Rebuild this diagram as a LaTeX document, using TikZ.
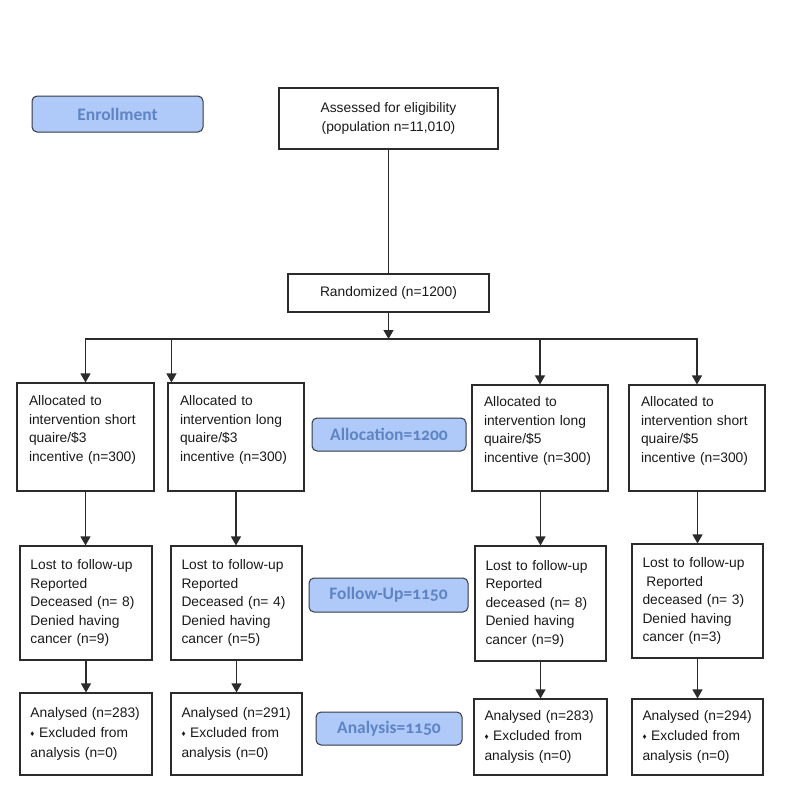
\documentclass[tikz,border=0pt]{standalone}
\usepackage{fontspec}
\setmainfont{Liberation Sans}
\newfontfamily\lblfont[Numbers=OldStyle]{Carlito}
\usetikzlibrary{arrows.meta}
\definecolor{lblfill}{HTML}{AFC9F9}
\definecolor{lbltext}{HTML}{5F84C4}
\definecolor{lbldraw}{HTML}{333840}
\definecolor{ln}{HTML}{2B2B2B}
\newcommand{\dmd}{{\fontsize{8}{8}\selectfont\raisebox{1pt}{♦}}}
\begin{document}
\begin{tikzpicture}[x=1pt,y=-1pt,
  box/.style={draw=ln, line width=1.1pt, rectangle, inner sep=0pt, text=black!90,
    font=\fontsize{13.8}{18.5}\selectfont},
  txtbox/.style={box, align=left},
  anbox/.style={box, align=left, font=\fontsize{13.8}{20}\selectfont},
  lbl/.style={draw=lbldraw, fill=lblfill, line width=1pt, rounded corners=5pt,
    text=lbltext, font=\lblfont\bfseries\fontsize{17.5}{19}\selectfont, inner sep=0pt},
  arr/.style={draw=ln, line width=1.1pt, -{Triangle[length=9pt,width=10pt]}},
  conn/.style={draw=ln, line width=1.1pt}]
\useasboundingbox (0,0) rectangle (785,785);

% stage labels
\node[lbl, minimum width=171pt, minimum height=36pt] (enroll) at (117.5,114) {Enrollment};
\node[lbl, minimum width=154pt, minimum height=33pt] (alloc) at (389,434.5) {Allocation=1200};
\node[lbl, minimum width=159pt, minimum height=34pt] (follow) at (388.5,595) {Follow-Up=1150};
\node[lbl, minimum width=146pt, minimum height=33pt] (anal) at (389,728.5) {Analysis=1150};

% top boxes
\node[box, align=center, minimum width=219pt, minimum height=61pt] (assess) at (388.5,118.5)
  {Assessed for eligibility\\(population n=11,010)};
\node[box, minimum width=201pt, minimum height=38pt] (rand) at (388.5,293) {Randomized (n=1200)};

% allocation boxes
\node[txtbox, minimum width=137pt, minimum height=108pt, text width=113pt] (A1) at (85.5,437)
  {Allocated to\\\mbox{intervention short}\\quaire/\$3\\\mbox{incentive (n=300)}\rule[-17pt]{0pt}{0pt}};
\node[txtbox, minimum width=136pt, minimum height=108pt, text width=112pt] (A2) at (236,437)
  {Allocated to\\intervention long\\quaire/\$3\\\mbox{incentive (n=300)}\rule[-17pt]{0pt}{0pt}};
\node[txtbox, minimum width=136pt, minimum height=106pt, text width=112pt] (A3) at (540,438)
  {Allocated to\\intervention long\\quaire/\$5\\\mbox{incentive (n=300)}\rule[-17pt]{0pt}{0pt}};
\node[txtbox, minimum width=136pt, minimum height=106pt, text width=112pt] (A4) at (697,438)
  {Allocated to\\\mbox{intervention short}\\quaire/\$5\\\mbox{incentive (n=300)}\rule[-17pt]{0pt}{0pt}};

% follow-up boxes
\node[txtbox, minimum width=132pt, minimum height=114pt, text width=111pt] (F1) at (86,603)
  {\mbox{Lost to follow-up}\\Reported\\\mbox{Deceased (n= 8)}\\Denied having\\cancer (n=9)};
\node[txtbox, minimum width=131pt, minimum height=114pt, text width=110pt] (F2) at (236.5,603)
  {\mbox{Lost to follow-up}\\Reported\\\mbox{Deceased (n= 4)}\\Denied having\\cancer (n=5)};
\node[txtbox, minimum width=131pt, minimum height=115pt, text width=110pt] (F3) at (540.5,603.5)
  {\mbox{Lost to follow-up}\\Reported\\\mbox{deceased (n= 8)}\\Denied having\\cancer (n=9)};
\node[txtbox, minimum width=131pt, minimum height=114pt, text width=110pt] (F4) at (697.5,601)
  {\mbox{Lost to follow-up}\\\hspace*{3.8pt}Reported\\\mbox{deceased (n= 3)}\\Denied having\\cancer (n=3)};

% analysis boxes
\node[anbox, minimum width=132pt, minimum height=82pt, text width=111pt] (N1) at (86,734)
  {\mbox{Analysed (n=283)}\\\dmd{} Excluded from\\analysis (n=0)};
\node[anbox, minimum width=131pt, minimum height=82pt, text width=110pt] (N2) at (236.5,734)
  {\mbox{Analysed (n=291)}\\\dmd{} Excluded from\\analysis (n=0)};
\node[anbox, minimum width=133pt, minimum height=76pt, text width=112pt] (N3) at (540.5,737)
  {\mbox{Analysed (n=283)}\\\dmd{} Excluded from\\analysis (n=0)};
\node[anbox, minimum width=131pt, minimum height=76pt, text width=110pt] (N4) at (697.5,737)
  {\mbox{Analysed (n=294)}\\\dmd{} Excluded from\\analysis (n=0)};

% connectors
\coordinate (split) at (388.5,339);
\draw[conn] (assess) -- (rand);
\draw[arr] (rand) -- (split);
\draw[arr] (split) -| (A1);
\draw[arr] (split) -| ([xshift=4pt]A2.north west);
\draw[arr] (split) -| (A3);
\draw[arr] (split) -| (A4);

\draw[arr] (A1.south) -- (A1.south |- F1.north);
\draw[arr] (A2.south) -- (A2.south |- F2.north);
\draw[arr] (F3.north |- A3.south) -- (F3.north);
\draw[arr] (F4.north |- A4.south) -- (F4.north);

\draw[arr] (F1.south) -- (F1.south |- N1.north);
\draw[arr] (F2.south) -- (F2.south |- N2.north);
\draw[arr] (F3.south) -- (F3.south |- N3.north);
\draw[arr] (F4.south) -- (F4.south |- N4.north);
\end{tikzpicture}
\end{document}
